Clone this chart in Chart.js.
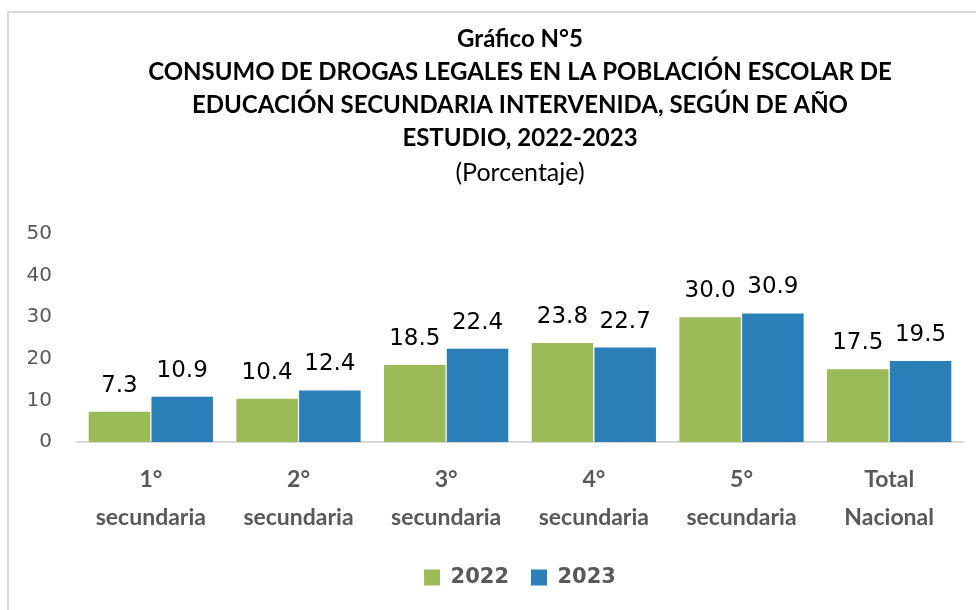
<!DOCTYPE html>
<html>
<head>
<meta charset="utf-8">
<script src="https://cdn.jsdelivr.net/npm/chart.js@4.4.1/dist/chart.umd.min.js"></script>
<style>
  html, body { margin: 0; padding: 0; background: #fff; }
  #wrap { position: relative; width: 976px; height: 610px; overflow: hidden; }
  #frame { position: absolute; left: 7px; top: 11px; width: 980px; height: 610px;
           border-left: 2px solid #d9d9d9; border-top: 2px solid #d9d9d9; box-sizing: border-box; }
  #c { position: absolute; left: 0; top: 0; }
</style>
</head>
<body>
<div id="wrap">
  <div id="frame"></div>
  <canvas id="c" width="976" height="610"></canvas>
</div>
<script>
const categories = [
  ['1°', 'secundaria'],
  ['2°', 'secundaria'],
  ['3°', 'secundaria'],
  ['4°', 'secundaria'],
  ['5°', 'secundaria'],
  ['Total', 'Nacional']
];
const values2022 = [7.3, 10.4, 18.5, 23.8, 30.0, 17.5];
const values2023 = [10.9, 12.4, 22.4, 22.7, 30.9, 19.5];
const seriesNames = ['2022', '2023'];
const yTicks = [0, 10, 20, 30, 40, 50];
const titleLines = [
  'Gráfico N°5',
  'CONSUMO DE DROGAS LEGALES EN LA POBLACIÓN ESCOLAR DE',
  'EDUCACIÓN SECUNDARIA INTERVENIDA, SEGÚN DE AÑO',
  'ESTUDIO, 2022-2023'
];
const subtitleText = '(Porcentaje)';

const FONT = 'Lato, "Liberation Sans", sans-serif';
const WIDE = '"DejaVu Sans", sans-serif';

const dataLabelPlugin = {
  id: 'dataLabels',
  afterDatasetsDraw(chart) {
    const ctx = chart.ctx;
    ctx.save();
    ctx.font = '23px ' + WIDE;
    ctx.fillStyle = '#000000';
    ctx.textAlign = 'center';
    ctx.textBaseline = 'middle';
    chart.data.datasets.forEach((ds, i) => {
      const meta = chart.getDatasetMeta(i);
      meta.data.forEach((bar, j) => {
        ctx.fillText(ds.data[j].toFixed(1), bar.x, bar.y - 26);
      });
    });
    ctx.restore();
  }
};

new Chart(document.getElementById('c'), {
  type: 'bar',
  data: {
    labels: categories,
    datasets: [
      { label: seriesNames[0], data: values2022, backgroundColor: '#9BBB59',
        categoryPercentage: 0.85, barPercentage: 0.98 },
      { label: seriesNames[1], data: values2023, backgroundColor: '#2A7FB8',
        categoryPercentage: 0.85, barPercentage: 0.98 }
    ]
  },
  options: {
    responsive: false,
    animation: false,
    layout: { padding: { left: 0, right: 13, top: 0, bottom: 12 } },
    scales: {
      x: {
        afterFit(scale) { scale.height = 103; },
        grid: { display: true, drawOnChartArea: false, drawTicks: false, color: 'rgba(0,0,0,0)' },
        border: { display: true, color: '#d9d9d9', width: 2 },
        ticks: { color: '#595959', padding: 19,
                 font: { family: FONT, size: 23, weight: 'bold', lineHeight: 38 / 23 } }
      },
      y: {
        min: 0, max: 50,
        afterBuildTicks(scale) { scale.ticks = yTicks.map(v => ({ value: v })); },
        afterFit(scale) { scale.width = 77; },
        grid: { display: false, drawTicks: false },
        border: { display: false },
        ticks: { color: '#595959', padding: 25, font: { family: WIDE, size: 20 } }
      }
    },
    plugins: {
      tooltip: { enabled: false },
      title: {
        display: true, text: titleLines, fullSize: false, color: '#000000',
        font: { family: FONT, size: 24, weight: 'bold', lineHeight: 33 / 24 },
        padding: { top: 23, bottom: 0 }
      },
      subtitle: {
        display: true, text: subtitleText, fullSize: false, color: '#000000',
        font: { family: FONT, size: 25, weight: 'normal', lineHeight: 33 / 25 },
        padding: { top: 1, bottom: 45 }
      },
      legend: {
        position: 'bottom',
        fullSize: false,
        labels: {
          color: '#595959', boxWidth: 16, boxHeight: 16, padding: 22,
          font: { family: WIDE, size: 21, weight: 'bold' }
        }
      }
    }
  },
  plugins: [dataLabelPlugin]
});
</script>
</body>
</html>
